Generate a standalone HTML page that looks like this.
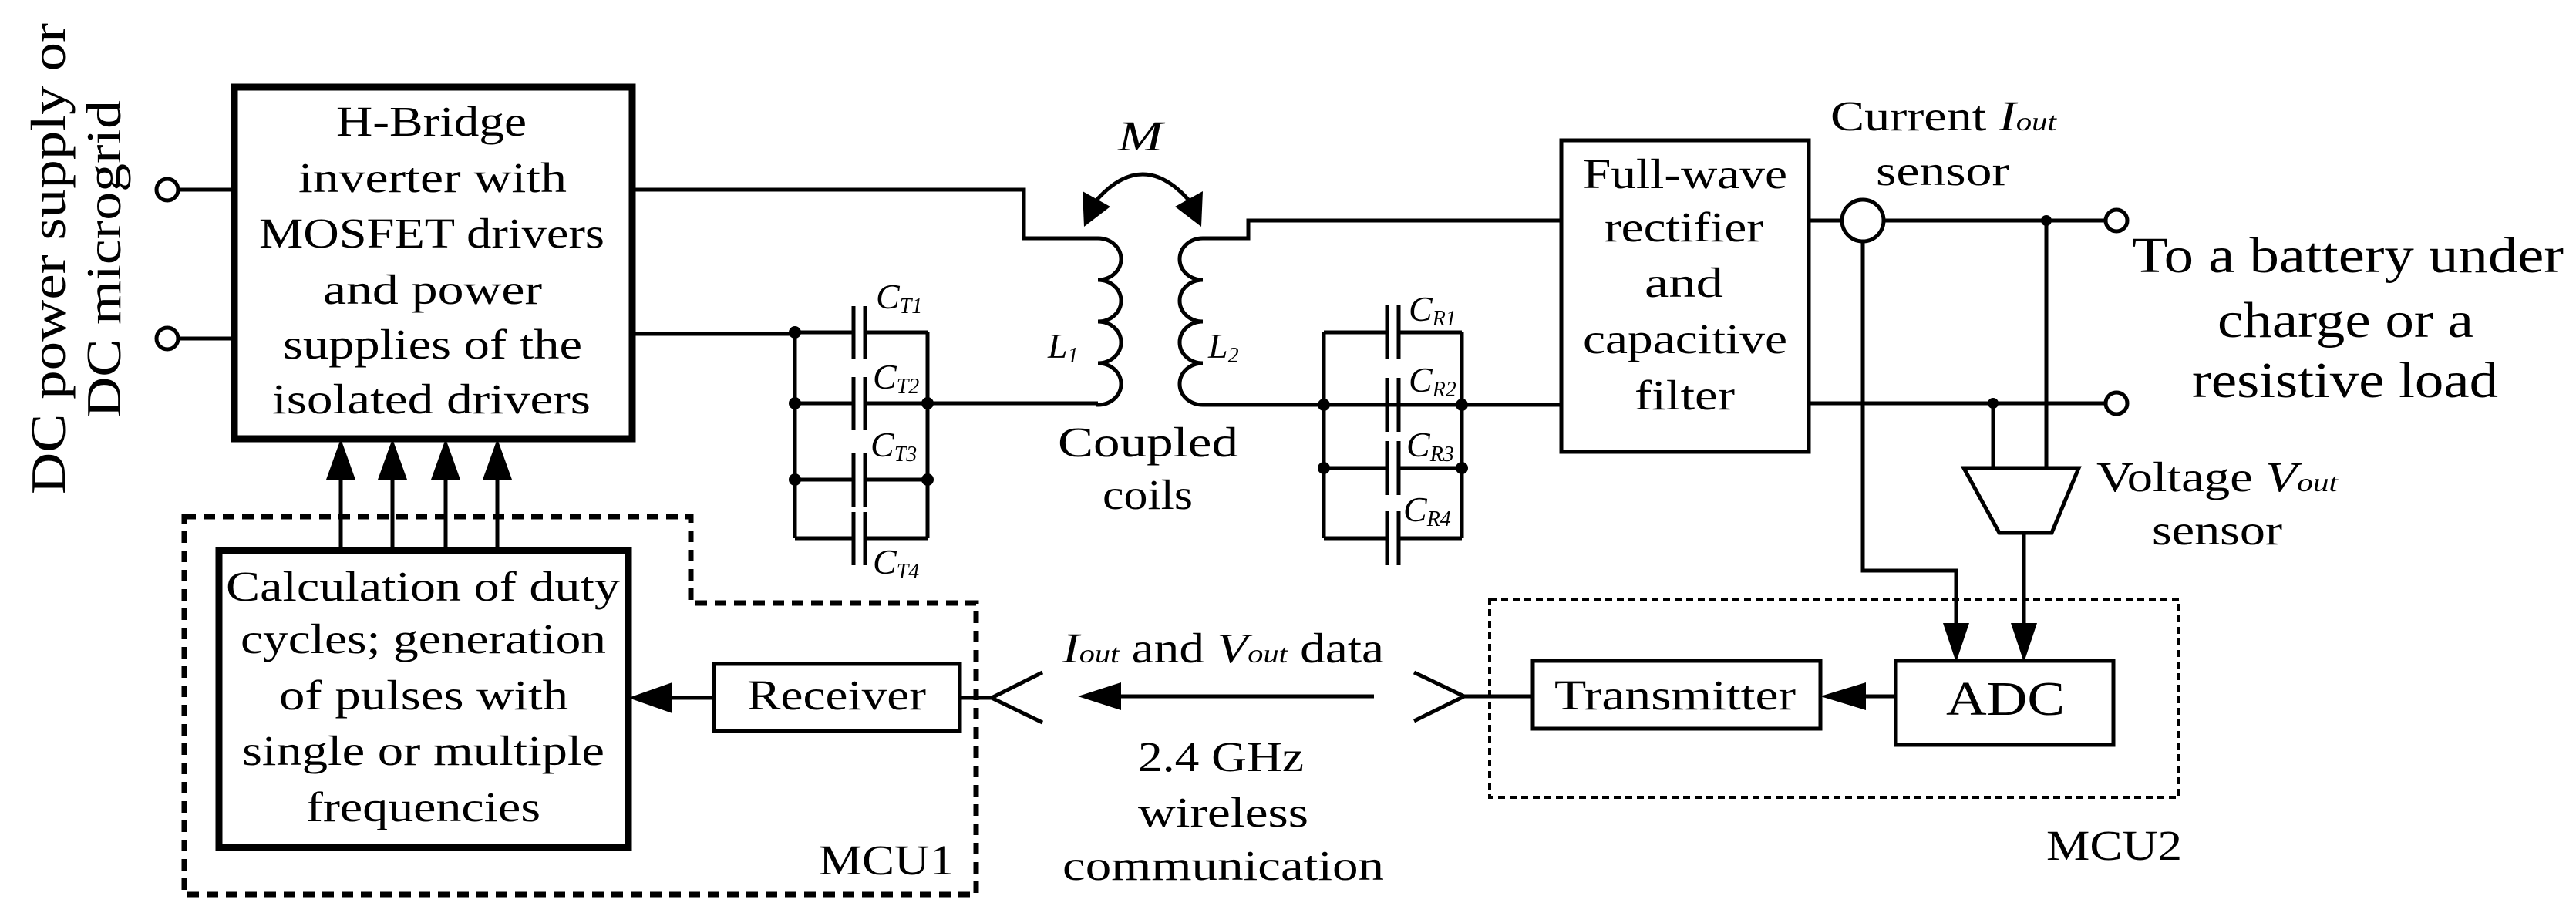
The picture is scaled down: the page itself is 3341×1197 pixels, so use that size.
<!DOCTYPE html>
<html><head><meta charset="utf-8"><style>html,body{margin:0;padding:0;background:#fff}svg{display:block}</style></head>
<body>
<svg width="3341" height="1197" viewBox="0 0 3341 1197" xmlns="http://www.w3.org/2000/svg" font-family="'Liberation Serif', serif" fill="#000">
<rect width="3341" height="1197" fill="#fff"/>
<g stroke="#000" fill="none" stroke-width="5">
<circle cx="217" cy="246" r="14"/><circle cx="217" cy="439" r="14"/>
<line x1="231" y1="246" x2="304" y2="246"/><line x1="231" y1="439" x2="304" y2="439"/>
<rect x="304" y="113" width="516" height="456" stroke-width="9"/>
<polyline points="820,246 1328,246 1328,309 1424,309"/>
<line x1="820" y1="433" x2="1031" y2="433"/>
<line x1="1031" y1="431" x2="1031" y2="698"/>
<line x1="1203" y1="431" x2="1203" y2="698"/>
<line x1="1031" y1="431" x2="1107" y2="431"/><line x1="1122" y1="431" x2="1203" y2="431"/>
<line x1="1031" y1="523" x2="1107" y2="523"/><line x1="1122" y1="523" x2="1203" y2="523"/>
<line x1="1031" y1="622" x2="1107" y2="622"/><line x1="1122" y1="622" x2="1203" y2="622"/>
<line x1="1031" y1="698" x2="1107" y2="698"/><line x1="1122" y1="698" x2="1203" y2="698"/>
<line x1="1107" y1="397" x2="1107" y2="466"/><line x1="1122" y1="397" x2="1122" y2="466"/>
<line x1="1107" y1="489" x2="1107" y2="558"/><line x1="1122" y1="489" x2="1122" y2="558"/>
<line x1="1107" y1="588" x2="1107" y2="657"/><line x1="1122" y1="588" x2="1122" y2="657"/>
<line x1="1107" y1="664" x2="1107" y2="733"/><line x1="1122" y1="664" x2="1122" y2="733"/>
<line x1="1203" y1="523" x2="1424" y2="523"/>
<path d="M1424 309 a30 27 0 0 1 0 54 a30 27 0 0 1 0 54 a30 27 0 0 1 0 54 a30 27 0 0 1 0 54 L1424 523"/>
<path d="M1560 309 a30 27 0 0 0 0 54 a30 27 0 0 0 0 54 a30 27 0 0 0 0 54 a30 27 0 0 0 0 54 L1560 523"/>
<polyline points="1560,309 1619,309 1619,286 2025,286"/>
<line x1="1560" y1="525" x2="2025" y2="525"/>
<line x1="1717" y1="431" x2="1717" y2="698"/>
<line x1="1896" y1="431" x2="1896" y2="698"/>
<line x1="1717" y1="431" x2="1799" y2="431"/><line x1="1814" y1="431" x2="1896" y2="431"/>
<line x1="1717" y1="607" x2="1799" y2="607"/><line x1="1814" y1="607" x2="1896" y2="607"/>
<line x1="1717" y1="698" x2="1799" y2="698"/><line x1="1814" y1="698" x2="1896" y2="698"/>
<line x1="1799" y1="396" x2="1799" y2="466"/><line x1="1814" y1="396" x2="1814" y2="466"/>
<line x1="1799" y1="490" x2="1799" y2="560"/><line x1="1814" y1="490" x2="1814" y2="560"/>
<line x1="1799" y1="572" x2="1799" y2="642"/><line x1="1814" y1="572" x2="1814" y2="642"/>
<line x1="1799" y1="663" x2="1799" y2="733"/><line x1="1814" y1="663" x2="1814" y2="733"/>
<rect x="2025" y="182" width="321" height="404"/>
<line x1="2346" y1="286" x2="2389" y2="286"/>
<circle cx="2416" cy="286" r="27"/>
<line x1="2443" y1="286" x2="2731" y2="286"/>
<circle cx="2745" cy="286" r="14"/>
<line x1="2346" y1="523" x2="2731" y2="523"/>
<circle cx="2745" cy="523" r="14"/>
<polyline points="2416,313 2416,740 2537,740 2537,810"/>
<line x1="2654" y1="286" x2="2654" y2="607"/>
<line x1="2585" y1="523" x2="2585" y2="607"/>
<polygon points="2547,607 2696,607 2661,691 2593,691"/>
<line x1="2625" y1="691" x2="2625" y2="810"/>
<rect x="1932" y="777" width="894" height="257" stroke-width="4" stroke-dasharray="9 6"/>
<rect x="2459" y="857" width="282" height="109"/>
<rect x="1988" y="857" width="373" height="88"/>
<line x1="2459" y1="903" x2="2415" y2="903"/>
<line x1="1988" y1="903" x2="1899" y2="903"/>
<polyline points="1834,872 1899,903 1834,935"/>
<line x1="1782" y1="903" x2="1450" y2="903"/>
<polyline points="1352,872 1286,905 1352,937"/>
<polygon points="239,670 896,670 896,782 1266,782 1266,1160 239,1160" stroke-width="7" stroke-dasharray="15 10"/>
<rect x="284" y="714" width="531" height="385" stroke-width="9"/>
<rect x="926" y="861" width="319" height="87"/>
<line x1="926" y1="905" x2="868" y2="905"/>
<line x1="1245" y1="905" x2="1286" y2="905"/>
<line x1="442" y1="714" x2="442" y2="615"/><line x1="509" y1="714" x2="509" y2="615"/>
<line x1="578" y1="714" x2="578" y2="615"/><line x1="645" y1="714" x2="645" y2="615"/>
<path d="M1420 262 Q1482 190 1544 262"/>
</g>
<g>
<circle cx="1031" cy="431" r="8"/><circle cx="1031" cy="523" r="8"/><circle cx="1031" cy="622" r="8"/>
<circle cx="1203" cy="523" r="8"/><circle cx="1203" cy="622" r="8"/>
<circle cx="1717" cy="525" r="8"/><circle cx="1717" cy="607" r="8"/>
<circle cx="1896" cy="525" r="8"/><circle cx="1896" cy="607" r="8"/>
<circle cx="2654" cy="286" r="7"/><circle cx="2585" cy="523" r="7"/>
</g>
<g>
<polygon points="442,569 423,622 461,622"/><polygon points="509,569 490,622 528,622"/>
<polygon points="578,569 559,622 597,622"/><polygon points="645,569 626,622 664,622"/>
<polygon points="815,905 872,885 872,925"/>
<polygon points="2361,903 2420,885 2420,921"/>
<polygon points="1398,903 1454,885 1454,921"/>
<polygon points="2537,859 2520,808 2554,808"/>
<polygon points="2625,859 2608,808 2642,808"/>
<polygon points="1406,294 1404,248 1440,268"/>
<polygon points="1558,294 1560,248 1524,268"/>
</g>
<g font-size="64">
<text transform="translate(84,641) rotate(-90)" textLength="611" lengthAdjust="spacingAndGlyphs">DC power supply or</text>
<text transform="translate(156,542) rotate(-90)" textLength="412" lengthAdjust="spacingAndGlyphs">DC microgrid</text>
</g>
<g font-size="55">
<text x="436" y="176" textLength="247" lengthAdjust="spacingAndGlyphs">H-Bridge</text>
<text x="387" y="249" textLength="348" lengthAdjust="spacingAndGlyphs">inverter with</text>
<text x="336" y="321" textLength="448" lengthAdjust="spacingAndGlyphs">MOSFET drivers</text>
<text x="419" y="394" textLength="284" lengthAdjust="spacingAndGlyphs">and power</text>
<text x="367" y="465" textLength="388" lengthAdjust="spacingAndGlyphs">supplies of the</text>
<text x="353" y="536" textLength="413" lengthAdjust="spacingAndGlyphs">isolated drivers</text>

<text x="293" y="779" textLength="511" lengthAdjust="spacingAndGlyphs">Calculation of duty</text>
<text x="312" y="847" textLength="474" lengthAdjust="spacingAndGlyphs">cycles; generation</text>
<text x="362" y="920" textLength="375" lengthAdjust="spacingAndGlyphs">of pulses with</text>
<text x="314" y="992" textLength="470" lengthAdjust="spacingAndGlyphs">single or multiple</text>
<text x="397" y="1065" textLength="304" lengthAdjust="spacingAndGlyphs">frequencies</text>

<text x="969" y="920" textLength="232" lengthAdjust="spacingAndGlyphs">Receiver</text>
<text x="1062" y="1134" textLength="175" lengthAdjust="spacingAndGlyphs">MCU1</text>

<text x="1450" y="195" font-style="italic" textLength="58" lengthAdjust="spacingAndGlyphs">M</text>
<text x="1372" y="592" textLength="234" lengthAdjust="spacingAndGlyphs">Coupled</text>
<text x="1430" y="660" textLength="117" lengthAdjust="spacingAndGlyphs">coils</text>

<text x="2053" y="244" textLength="265" lengthAdjust="spacingAndGlyphs">Full-wave</text>
<text x="2081" y="313" textLength="206" lengthAdjust="spacingAndGlyphs">rectifier</text>
<text x="2133" y="385" textLength="102" lengthAdjust="spacingAndGlyphs">and</text>
<text x="2053" y="458" textLength="265" lengthAdjust="spacingAndGlyphs">capacitive</text>
<text x="2120" y="531" textLength="130" lengthAdjust="spacingAndGlyphs">filter</text>

<text x="2374" y="169" textLength="293" lengthAdjust="spacingAndGlyphs">Current <tspan font-style="italic">I</tspan><tspan font-style="italic" font-size="34">out</tspan></text>
<text x="2433" y="240" textLength="173" lengthAdjust="spacingAndGlyphs">sensor</text>
<text x="2719" y="637" textLength="313" lengthAdjust="spacingAndGlyphs">Voltage <tspan font-style="italic">V</tspan><tspan font-style="italic" font-size="34">out</tspan></text>
<text x="2791" y="706" textLength="169" lengthAdjust="spacingAndGlyphs">sensor</text>

<text x="2016" y="920" textLength="313" lengthAdjust="spacingAndGlyphs">Transmitter</text>
<text x="2524" y="927" font-size="62" textLength="154" lengthAdjust="spacingAndGlyphs">ADC</text>
<text x="2654" y="1115" textLength="176" lengthAdjust="spacingAndGlyphs">MCU2</text>

<text x="1378" y="859" textLength="417" lengthAdjust="spacingAndGlyphs"><tspan font-style="italic">I</tspan><tspan font-style="italic" font-size="34">out</tspan> and <tspan font-style="italic">V</tspan><tspan font-style="italic" font-size="34">out</tspan> data</text>
<text x="1476" y="1000" textLength="215" lengthAdjust="spacingAndGlyphs">2.4 GHz</text>
<text x="1476" y="1072" textLength="221" lengthAdjust="spacingAndGlyphs">wireless</text>
<text x="1378" y="1141" textLength="417" lengthAdjust="spacingAndGlyphs">communication</text>
</g>
<g font-size="66">
<text x="2765" y="353" textLength="560" lengthAdjust="spacingAndGlyphs">To a battery under</text>
<text x="2876" y="437" textLength="332" lengthAdjust="spacingAndGlyphs">charge or a</text>
<text x="2843" y="515" textLength="397" lengthAdjust="spacingAndGlyphs">resistive load</text>
</g>
<g font-size="46" font-style="italic">
<text x="1359" y="464">L<tspan font-size="28" dy="6">1</tspan></text>
<text x="1567" y="464">L<tspan font-size="28" dy="6">2</tspan></text>
<text x="1136" y="400">C<tspan font-size="28" dy="6">T1</tspan></text>
<text x="1132" y="504">C<tspan font-size="28" dy="6">T2</tspan></text>
<text x="1129" y="592">C<tspan font-size="28" dy="6">T3</tspan></text>
<text x="1132" y="744">C<tspan font-size="28" dy="6">T4</tspan></text>
<text x="1827" y="416">C<tspan font-size="28" dy="6">R1</tspan></text>
<text x="1827" y="508">C<tspan font-size="28" dy="6">R2</tspan></text>
<text x="1824" y="592">C<tspan font-size="28" dy="6">R3</tspan></text>
<text x="1820" y="676">C<tspan font-size="28" dy="6">R4</tspan></text>
</g>
</svg>
</body></html>
